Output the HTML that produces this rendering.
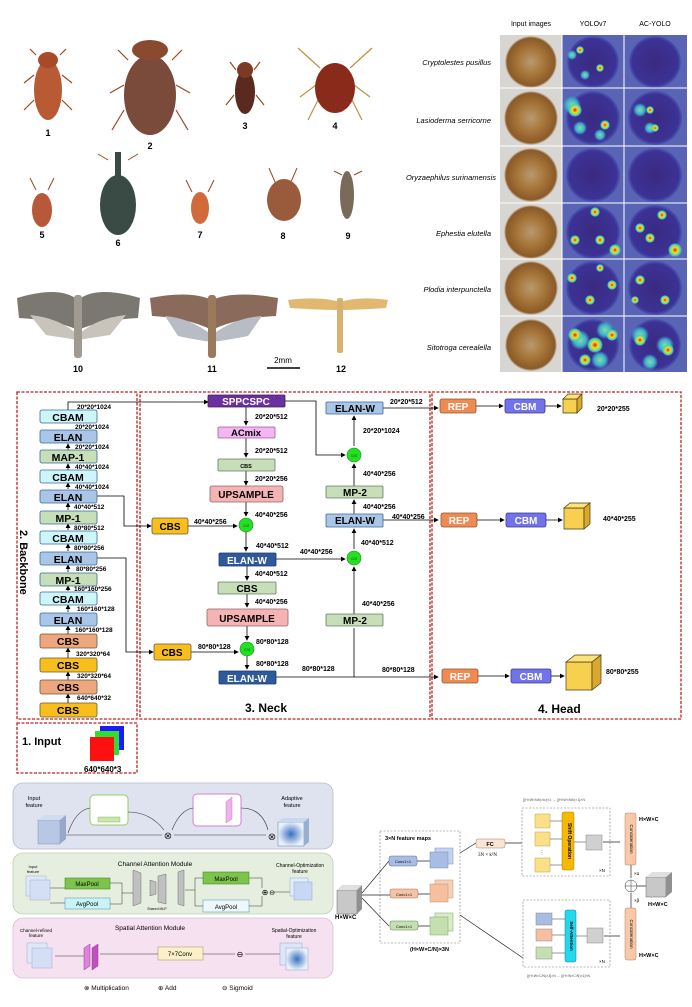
<!DOCTYPE html>
<html><head><meta charset="utf-8"><style>
html,body{margin:0;padding:0;background:#fff;}
svg{display:block;font-family:"Liberation Sans",sans-serif;}
</style></head><body>
<svg width="692" height="1007" viewBox="0 0 692 1007" xmlns="http://www.w3.org/2000/svg">
<defs>
<marker id="ar" markerWidth="6" markerHeight="6" refX="5" refY="3" orient="auto"><path d="M0,0 L6,3 L0,6z" fill="#000"/></marker>
<radialGradient id="grain" cx="50%" cy="50%" r="50%"><stop offset="0" stop-color="#b89a70"/><stop offset="0.5" stop-color="#a7763a"/><stop offset="0.92" stop-color="#8a5a28"/><stop offset="1" stop-color="#d8d0c4"/></radialGradient>
<radialGradient id="heat" cx="50%" cy="50%" r="55%"><stop offset="0" stop-color="#3a2a80"/><stop offset="0.8" stop-color="#3c3296"/><stop offset="1" stop-color="#5a78c8"/></radialGradient>
<radialGradient id="hot" cx="50%" cy="50%" r="50%"><stop offset="0" stop-color="#e02010"/><stop offset="0.4" stop-color="#f0e020"/><stop offset="0.8" stop-color="#40d0c0"/><stop offset="1" stop-color="#40d0c0" stop-opacity="0"/></radialGradient>
<radialGradient id="cool" cx="50%" cy="50%" r="50%"><stop offset="0" stop-color="#80e0a0"/><stop offset="0.6" stop-color="#40b0d0"/><stop offset="1" stop-color="#40b0d0" stop-opacity="0"/></radialGradient>
<radialGradient id="blueblob" cx="50%" cy="50%" r="50%"><stop offset="0" stop-color="#3a70c0"/><stop offset="1" stop-color="#e8f0fa"/></radialGradient>
</defs>

<!-- ===== Insects ===== -->
<g stroke="#9a4a20" stroke-width="1.2" fill="none">
<path d="M36,55 l-6,-6 M60,55 l6,-6 M34,75 l-10,8 M62,75 l10,8 M34,100 l-10,10 M62,100 l10,10"/>
<path d="M128,60 l-10,-10 M172,60 l10,-10 M124,85 l-14,8 M176,85 l14,8 M124,110 l-12,20 M176,110 l12,20"/>
<path d="M236,70 l-6,-8 M254,70 l6,-8 M234,95 l-8,10 M256,95 l8,10"/>
<path d="M320,68 l-22,-20 M350,68 l22,-20 M316,85 l-16,12 M354,85 l16,12 M318,100 l-10,20 M352,100 l10,20" stroke="#c09040"/>
</g>
<ellipse cx="48" cy="90" rx="14" ry="30" fill="#b85a34"/>
<ellipse cx="48" cy="60" rx="10" ry="8" fill="#a84a2a"/>
<ellipse cx="150" cy="95" rx="26" ry="40" fill="#7a4a3a"/>
<ellipse cx="150" cy="50" rx="18" ry="10" fill="#8a4a30"/>
<ellipse cx="245" cy="92" rx="10" ry="22" fill="#5a2a20"/>
<ellipse cx="245" cy="70" rx="8" ry="8" fill="#7a3a24"/>
<ellipse cx="335" cy="88" rx="20" ry="25" fill="#8a2a1a"/>
<g stroke="#9a4a20" stroke-width="1" fill="none">
<path d="M36,190 l-6,-12 M48,190 l6,-12 M108,160 l-10,-6 M128,160 l10,-6 M192,192 l-6,-12 M208,192 l6,-12 M275,182 l-6,-14 M291,182 l6,-14 M342,175 l-8,-4 M354,175 l8,-4"/>
</g>
<ellipse cx="42" cy="210" rx="10" ry="17" fill="#b8583a"/>
<ellipse cx="118" cy="205" rx="18" ry="30" fill="#3a4a44"/>
<rect x="115" y="152" width="6" height="25" fill="#3a4a44"/>
<ellipse cx="200" cy="208" rx="9" ry="16" fill="#d06a3a"/>
<ellipse cx="284" cy="200" rx="17" ry="21" fill="#9a5a3c"/>
<ellipse cx="347" cy="195" rx="7" ry="24" fill="#7a6a5a"/>
<g font-size="9" text-anchor="middle" font-weight="bold">
<text x="48" y="136">1</text><text x="150" y="149">2</text><text x="245" y="129">3</text><text x="335" y="129">4</text>
<text x="42" y="238">5</text><text x="118" y="246">6</text><text x="200" y="238">7</text><text x="283" y="239">8</text><text x="348" y="239">9</text>
<text x="78" y="372">10</text><text x="212" y="372">11</text><text x="341" y="372">12</text>
</g>
<path d="M17,298 Q60,285 78,300 Q96,285 140,298 L138,318 Q100,320 78,330 Q56,320 19,318z" fill="#7a7870"/>
<path d="M30,315 Q60,318 78,335 Q96,318 126,315 L110,335 Q90,338 78,340 Q66,338 46,335z" fill="#c8c4bc"/>
<rect x="74" y="295" width="8" height="63" rx="3" fill="#a09a90"/>
<path d="M150,298 Q190,290 212,300 Q234,290 278,298 L276,316 Q236,318 212,330 Q188,318 152,316z" fill="#8a6a5a"/>
<path d="M165,316 Q190,318 212,335 Q234,318 262,316 L248,336 Q228,340 212,342 Q196,340 178,336z" fill="#b8bcc4"/>
<rect x="208" y="295" width="8" height="63" rx="3" fill="#9a7a5a"/>
<path d="M288,300 Q320,296 340,302 Q360,296 388,300 L386,308 Q360,310 340,310 Q320,310 290,308z" fill="#e0b870"/>
<rect x="337" y="298" width="6" height="55" rx="2" fill="#d8b070"/>
<line x1="267" y1="368" x2="300" y2="368" stroke="#000" stroke-width="1.5"/>
<text x="283" y="363" font-size="8" text-anchor="middle">2mm</text>

<!-- ===== Heatmap grid ===== -->
<g font-size="7" text-anchor="middle"><text x="531" y="26">Input images</text><text x="593" y="26">YOLOv7</text><text x="655" y="26">AC-YOLO</text></g>
<g font-size="7.5" font-style="italic" text-anchor="end">
<text x="491" y="65">Cryptolestes pusillus</text><text x="491" y="123">Lasioderma serricorne</text><text x="496" y="180">Oryzaephilus surinamensis</text>
<text x="491" y="236">Ephestia elutella</text><text x="491" y="292">Plodia interpunctella</text><text x="491" y="350">Sitotroga cerealella</text>
</g>
<rect x="500" y="35" width="187" height="337" fill="#5a64b4"/>
<rect x="500" y="35" width="62" height="337" fill="#d8d6d2"/>
<g>
<circle cx="531" cy="62" r="26" fill="url(#grain)"/><circle cx="531" cy="118" r="27" fill="url(#grain)"/><circle cx="531" cy="175" r="27" fill="url(#grain)"/><circle cx="531" cy="232" r="27" fill="url(#grain)"/><circle cx="531" cy="288" r="27" fill="url(#grain)"/><circle cx="531" cy="345" r="26" fill="url(#grain)"/>
<circle cx="593" cy="62" r="26" fill="url(#heat)"/><circle cx="593" cy="118" r="27" fill="url(#heat)"/><circle cx="593" cy="175" r="27" fill="url(#heat)"/><circle cx="593" cy="232" r="27" fill="url(#heat)"/><circle cx="593" cy="288" r="27" fill="url(#heat)"/><circle cx="593" cy="345" r="26" fill="url(#heat)"/>
<circle cx="655" cy="62" r="26" fill="url(#heat)"/><circle cx="655" cy="118" r="27" fill="url(#heat)"/><circle cx="655" cy="175" r="27" fill="url(#heat)"/><circle cx="655" cy="232" r="27" fill="url(#heat)"/><circle cx="655" cy="288" r="27" fill="url(#heat)"/><circle cx="655" cy="345" r="26" fill="url(#heat)"/>
</g>
<g fill="url(#cool)">
<circle cx="572" cy="105" r="9"/><circle cx="580" cy="128" r="7"/><circle cx="600" cy="135" r="6"/><circle cx="640" cy="110" r="7"/><circle cx="650" cy="128" r="6"/>
<circle cx="580" cy="340" r="10"/><circle cx="605" cy="330" r="9"/><circle cx="600" cy="360" r="9"/><circle cx="640" cy="335" r="9"/><circle cx="665" cy="345" r="9"/><circle cx="650" cy="362" r="8"/><circle cx="572" cy="55" r="5"/><circle cx="585" cy="75" r="5"/>
</g>
<g fill="url(#hot)">
<circle cx="580" cy="50" r="4"/><circle cx="600" cy="68" r="4"/><circle cx="575" cy="110" r="7"/><circle cx="605" cy="125" r="5"/><circle cx="655" cy="128" r="4"/><circle cx="650" cy="110" r="4"/>
<circle cx="595" cy="212" r="5"/><circle cx="575" cy="240" r="5"/><circle cx="600" cy="240" r="5"/><circle cx="615" cy="250" r="6"/><circle cx="662" cy="215" r="5"/><circle cx="650" cy="238" r="5"/><circle cx="675" cy="250" r="7"/><circle cx="640" cy="228" r="5"/>
<circle cx="572" cy="278" r="5"/><circle cx="590" cy="300" r="5"/><circle cx="612" cy="285" r="5"/><circle cx="640" cy="280" r="5"/><circle cx="665" cy="300" r="5"/><circle cx="600" cy="268" r="4"/><circle cx="635" cy="300" r="4"/>
<circle cx="575" cy="335" r="7"/><circle cx="595" cy="345" r="8"/><circle cx="612" cy="335" r="6"/><circle cx="585" cy="360" r="6"/><circle cx="640" cy="340" r="6"/><circle cx="668" cy="350" r="6"/>
</g>
<g stroke="#fff" stroke-width="1">
<line x1="500" y1="88" x2="687" y2="88"/><line x1="500" y1="146" x2="687" y2="146"/><line x1="500" y1="203" x2="687" y2="203"/><line x1="500" y1="259" x2="687" y2="259"/><line x1="500" y1="316" x2="687" y2="316"/>
<line x1="562" y1="35" x2="562" y2="372"/><line x1="624" y1="35" x2="624" y2="372"/>
</g>

<!-- ===== Dashed boxes ===== -->
<g fill="none" stroke="#c02020" stroke-width="1.3" stroke-dasharray="3,1.5">
<rect x="17" y="392" width="120" height="327"/>
<rect x="140" y="392" width="290" height="327"/>
<rect x="432" y="392" width="249" height="327"/>
<rect x="17" y="723" width="120" height="50"/>
</g>

<!-- ===== Backbone ===== -->
<g stroke="#000" stroke-width="0.8" fill="none" marker-end="url(#ar)">
<path d="M68,703 V694"/><path d="M68,680 V672"/><path d="M68,658 V648"/><path d="M68,634 V626"/><path d="M68,612 V605"/><path d="M68,591 V586"/><path d="M68,572 V565"/><path d="M68,551 V544"/><path d="M68,530 V524"/><path d="M68,510 V503"/><path d="M68,489 V483"/><path d="M68,470 V464"/><path d="M68,450 V444"/>
<path d="M68,410 V402 H208"/>
<path d="M97,496 H124 V526 H151"/>
<path d="M97,558 H126 V652 H153"/>
</g>
<g font-size="10.5" font-weight="bold" text-anchor="middle">
<g stroke="#3a6a9a" stroke-width="0.8">
<rect x="40" y="410" width="57" height="13" rx="2" fill="#cdf6fb"/><text x="68" y="421" stroke="none">CBAM</text>
<rect x="40" y="430" width="57" height="13" rx="2" fill="#a9c6e6"/><text x="68" y="441" stroke="none">ELAN</text>
<rect x="40" y="450" width="57" height="13" rx="2" fill="#c6dfb8"/><text x="68" y="461" stroke="none">MAP-1</text>
<rect x="40" y="470" width="57" height="13" rx="2" fill="#cdf6fb"/><text x="68" y="481" stroke="none">CBAM</text>
<rect x="40" y="490" width="57" height="13" rx="2" fill="#a9c6e6"/><text x="68" y="501" stroke="none">ELAN</text>
<rect x="40" y="511" width="57" height="13" rx="2" fill="#c6dfb8"/><text x="68" y="522" stroke="none">MP-1</text>
<rect x="40" y="531" width="57" height="13" rx="2" fill="#cdf6fb"/><text x="68" y="542" stroke="none">CBAM</text>
<rect x="40" y="552" width="57" height="13" rx="2" fill="#a9c6e6"/><text x="68" y="563" stroke="none">ELAN</text>
<rect x="40" y="573" width="57" height="13" rx="2" fill="#c6dfb8"/><text x="68" y="584" stroke="none">MP-1</text>
<rect x="40" y="592" width="57" height="13" rx="2" fill="#cdf6fb"/><text x="68" y="603" stroke="none">CBAM</text>
<rect x="40" y="613" width="57" height="13" rx="2" fill="#a9c6e6"/><text x="68" y="624" stroke="none">ELAN</text>
</g>
<g stroke="#6a5a3a" stroke-width="0.8">
<rect x="40" y="634" width="57" height="14" rx="2" fill="#eea67c"/><text x="68" y="645" stroke="none">CBS</text>
<rect x="40" y="658" width="57" height="14" rx="2" fill="#f8bf1c"/><text x="68" y="669" stroke="none">CBS</text>
<rect x="40" y="680" width="57" height="14" rx="2" fill="#eea67c"/><text x="68" y="691" stroke="none">CBS</text>
<rect x="40" y="703" width="57" height="14" rx="2" fill="#f8bf1c"/><text x="68" y="714" stroke="none">CBS</text>
</g>
</g>
<g font-size="6.5" font-weight="bold">
<text x="77" y="409">20*20*1024</text><text x="75" y="429">20*20*1024</text><text x="75" y="449">20*20*1024</text><text x="75" y="469">40*40*1024</text><text x="75" y="489">40*40*1024</text>
<text x="74" y="509">40*40*512</text><text x="74" y="530">80*80*512</text><text x="74" y="550">80*80*256</text><text x="76" y="571">80*80*256</text><text x="74" y="591">160*160*256</text>
<text x="77" y="611">160*160*128</text><text x="75" y="632">160*160*128</text><text x="76" y="656">320*320*64</text><text x="77" y="678">320*320*64</text><text x="77" y="700">640*640*32</text>
</g>
<text x="20" y="530" font-size="11" font-weight="bold" transform="rotate(90 20 530)">2. Backbone</text>

<text x="22" y="745" font-size="11" font-weight="bold">1. Input</text>
<rect x="100" y="726" width="24" height="24" fill="#1a1aff"/>
<rect x="95" y="731" width="24" height="24" fill="#30e030"/>
<rect x="90" y="737" width="24" height="24" fill="#ff1010"/>
<text x="84" y="772" font-size="8" font-weight="bold">640*640*3</text>

<!-- ===== Neck ===== -->
<g stroke="#000" stroke-width="0.8" fill="none" marker-end="url(#ar)">
<path d="M246,407 V425"/><path d="M246,438 V457"/><path d="M246,471 V485"/><path d="M246,502 V516"/>
<path d="M188,526 H237"/><path d="M246,532 V551"/><path d="M247,566 V580"/><path d="M247,594 V607"/><path d="M247,626 V640"/>
<path d="M191,652 H238"/><path d="M247,656 V669"/>
<path d="M285,401 H316 V455 H345"/>
<path d="M276,559 H345"/>
<path d="M354,614 V567"/><path d="M354,549 V529"/><path d="M354,514 V500"/><path d="M354,486 V464"/><path d="M354,446 V416"/>
<path d="M383,408 H438"/><path d="M383,520 H438"/><path d="M276,677 H438"/>
<path d="M476,406 H503"/><path d="M476,520 H504"/><path d="M476,676 H509"/>
<path d="M545,406 H561"/><path d="M545,520 H562"/><path d="M550,676 H564"/>
</g>
<line x1="354" y1="677" x2="354" y2="628" stroke="#000" stroke-width="0.8"/>
<g text-anchor="middle" font-weight="bold">
<rect x="208" y="395" width="77" height="12" rx="1" fill="#6b2fa0" stroke="#3a2060" stroke-width="0.8"/><text x="246" y="405" font-size="10" fill="#fff">SPPCSPC</text>
<rect x="218" y="427" width="57" height="11" rx="1" fill="#f3b6f3" stroke="#9a5aa0" stroke-width="0.8"/><text x="246" y="436" font-size="9.5">ACmix</text>
<rect x="218" y="459" width="57" height="12" rx="1" fill="#c6dfb8" stroke="#6a7a6a" stroke-width="0.8"/><text x="246" y="468" font-size="5.5">CBS</text>
<rect x="210" y="486" width="73" height="16" rx="2" fill="#f5b3b3" stroke="#8a6a6a" stroke-width="0.8"/><text x="246" y="498" font-size="10">UPSAMPLE</text>
<rect x="152" y="518" width="36" height="16" rx="2" fill="#f8bf1c" stroke="#6a5a3a" stroke-width="0.8"/><text x="170" y="530" font-size="10">CBS</text>
<rect x="219" y="553" width="57" height="13" rx="1" fill="#2e5a9c" stroke="#1a3a6a" stroke-width="0.8"/><text x="247" y="564" font-size="10" fill="#fff">ELAN-W</text>
<rect x="218" y="582" width="58" height="12" rx="1" fill="#c6dfb8" stroke="#6a7a6a" stroke-width="0.8"/><text x="247" y="592" font-size="10">CBS</text>
<rect x="207" y="609" width="81" height="17" rx="2" fill="#f5b3b3" stroke="#8a6a6a" stroke-width="0.8"/><text x="247" y="622" font-size="10">UPSAMPLE</text>
<rect x="154" y="644" width="37" height="16" rx="2" fill="#f8bf1c" stroke="#6a5a3a" stroke-width="0.8"/><text x="172" y="656" font-size="10">CBS</text>
<rect x="219" y="671" width="57" height="13" rx="1" fill="#2e5a9c" stroke="#1a3a6a" stroke-width="0.8"/><text x="247" y="682" font-size="10" fill="#fff">ELAN-W</text>
<rect x="326" y="402" width="57" height="12" rx="1" fill="#a9c6e6" stroke="#3a6a9a" stroke-width="0.8"/><text x="355" y="412" font-size="10">ELAN-W</text>
<rect x="326" y="486" width="57" height="12" rx="1" fill="#c6dfb8" stroke="#6a7a6a" stroke-width="0.8"/><text x="355" y="496" font-size="10">MP-2</text>
<rect x="326" y="514" width="57" height="13" rx="1" fill="#a9c6e6" stroke="#3a6a9a" stroke-width="0.8"/><text x="355" y="524" font-size="10">ELAN-W</text>
<rect x="326" y="614" width="57" height="12" rx="1" fill="#c6dfb8" stroke="#6a7a6a" stroke-width="0.8"/><text x="355" y="624" font-size="10">MP-2</text>
<g fill="#22e022" stroke="#1a8a1a" stroke-width="0.6">
<circle cx="246" cy="525" r="7"/><circle cx="247" cy="649" r="7"/><circle cx="354" cy="455" r="7"/><circle cx="354" cy="558" r="7"/>
</g>
<g font-size="4.5" font-weight="normal" fill="#1a6a1a"><text x="246" y="527">cat</text><text x="247" y="651">cat</text><text x="354" y="457">cat</text><text x="354" y="560">cat</text></g>
</g>
<g font-size="7" font-weight="bold">
<text x="255" y="419">20*20*512</text><text x="255" y="453">20*20*512</text><text x="255" y="481">20*20*256</text><text x="255" y="517">40*40*256</text>
<text x="194" y="524">40*40*256</text><text x="256" y="548">40*40*512</text><text x="300" y="554">40*40*256</text><text x="255" y="576">40*40*512</text>
<text x="255" y="604">40*40*256</text><text x="256" y="644">80*80*128</text><text x="198" y="649">80*80*128</text><text x="256" y="666">80*80*128</text>
<text x="302" y="671">80*80*128</text><text x="382" y="672">80*80*128</text>
<text x="363" y="433">20*20*1024</text><text x="363" y="476">40*40*256</text><text x="363" y="509">40*40*256</text><text x="361" y="545">40*40*512</text><text x="362" y="606">40*40*256</text>
<text x="390" y="404">20*20*512</text><text x="392" y="519">40*40*256</text>
</g>
<text x="245" y="712" font-size="12" font-weight="bold">3. Neck</text>

<!-- ===== Head ===== -->
<g font-weight="bold" text-anchor="middle" font-size="10" fill="#fff">
<rect x="440" y="399" width="36" height="14" rx="2" fill="#ee8a52" stroke="#8a5a3a" stroke-width="0.8"/><text x="458" y="410">REP</text>
<rect x="505" y="399" width="40" height="14" rx="2" fill="#7272ea" stroke="#3a3a8a" stroke-width="0.8"/><text x="525" y="410">CBM</text>
<rect x="441" y="513" width="36" height="14" rx="2" fill="#ee8a52" stroke="#8a5a3a" stroke-width="0.8"/><text x="459" y="524">REP</text>
<rect x="506" y="513" width="40" height="14" rx="2" fill="#7272ea" stroke="#3a3a8a" stroke-width="0.8"/><text x="526" y="524">CBM</text>
<rect x="442" y="669" width="36" height="14" rx="2" fill="#ee8a52" stroke="#8a5a3a" stroke-width="0.8"/><text x="460" y="680">REP</text>
<rect x="511" y="669" width="40" height="14" rx="2" fill="#7272ea" stroke="#3a3a8a" stroke-width="0.8"/><text x="531" y="680">CBM</text>
</g>
<g stroke="#4a3a10" stroke-width="0.7">
<path d="M563,399 h14 v14 h-14z" fill="#f8d050"/><path d="M563,399 l5,-5 h14 l-5,5z" fill="#fbe27a"/><path d="M577,399 l5,-5 v14 l-5,5z" fill="#d8a830"/>
<path d="M564,508 h20 v21 h-20z" fill="#f8d050"/><path d="M564,508 l6,-5 h20 l-6,5z" fill="#fbe27a"/><path d="M584,508 l6,-5 v21 l-6,5z" fill="#d8a830"/>
<path d="M566,662 h26 v28 h-26z" fill="#f8d050"/><path d="M566,662 l9,-7 h26 l-9,7z" fill="#fbe27a"/><path d="M592,662 l9,-7 v28 l-9,7z" fill="#d8a830"/>
</g>
<g font-size="7" font-weight="bold"><text x="597" y="411">20*20*255</text><text x="603" y="521">40*40*255</text><text x="606" y="674">80*80*255</text></g>
<text x="538" y="713" font-size="12" font-weight="bold">4. Head</text>

<!-- ===== Bottom left panels ===== -->
<rect x="13" y="783" width="320" height="66" rx="10" fill="#dfe3ef" stroke="#b8bccc" stroke-width="0.8"/>
<rect x="13" y="853" width="320" height="61" rx="10" fill="#e6efdf" stroke="#c0ccb8" stroke-width="0.8"/>
<rect x="13" y="918" width="320" height="60" rx="10" fill="#f6e1f1" stroke="#d8c0d4" stroke-width="0.8"/>
<g font-size="5.5" text-anchor="middle">
<text x="34" y="800">Input</text><text x="34" y="807">feature</text>
<text x="109" y="805" font-size="4">Channel</text><text x="109" y="810" font-size="4">Attention</text><text x="109" y="815" font-size="4">Module</text>
<text x="205" y="806" font-size="4">Spatial</text><text x="205" y="811" font-size="4">Attention</text><text x="205" y="816" font-size="4">Module</text>
<text x="292" y="800">Adaptive</text><text x="292" y="807">feature</text>
<text x="155" y="866" font-size="6.5">Channel Attention Module</text>
<text x="150" y="930" font-size="6.5">Spatial Attention Module</text>
<text x="33" y="868" font-size="4">Input</text><text x="33" y="873" font-size="4">feature</text>
<text x="300" y="867" font-size="5">Channel-Optimization</text><text x="300" y="873" font-size="5">feature</text>
<text x="36" y="932" font-size="4.5">Channel-refined</text><text x="36" y="937" font-size="4.5">feature</text>
<text x="294" y="932" font-size="5">Spatial-Optimization</text><text x="294" y="938" font-size="5">feature</text>
<text x="157" y="910" font-size="3.5">Shared MLP</text>
</g>
<path d="M38,820 h22 v24 h-22z" fill="#b8c8e4" stroke="#8090b0" stroke-width="0.5"/><path d="M38,820 l6,-5 h22 l-6,5z" fill="#d0dcf0"/><path d="M60,820 l6,-5 v24 l-6,5z" fill="#98a8c8"/>
<rect x="90" y="795" width="38" height="30" rx="4" fill="#fff" stroke="#9acc60" stroke-width="1"/>
<rect x="98" y="817" width="22" height="5" fill="#c8e8a8" stroke="#80a060" stroke-width="0.4"/>
<rect x="193" y="794" width="48" height="32" rx="4" fill="#fff" stroke="#d080d0" stroke-width="1"/>
<path d="M226,802 l6,-5 v22 l-6,4z" fill="#f0b0e8" stroke="#b070b0" stroke-width="0.4"/>
<g stroke="#333" stroke-width="0.6" fill="none">
<path d="M66,835 H162 M174,835 H266 M278,835 H290"/>
<path d="M68,833 Q76,810 90,808"/><path d="M128,812 Q150,812 164,830"/><path d="M172,830 Q180,810 193,808"/><path d="M241,808 Q262,808 268,830"/>
</g>
<g font-size="10" text-anchor="middle" fill="#222"><text x="168" y="839">⊗</text><text x="272" y="840">⊗</text></g>
<rect x="278" y="822" width="26" height="24" fill="url(#blueblob)" stroke="#6080a0" stroke-width="0.5"/>
<path d="M278,822 l5,-4 h26 l-5,4z" fill="#c8d8ee"/><path d="M304,822 l5,-4 v24 l-5,4z" fill="#98b0d0"/>
<rect x="26" y="876" width="20" height="20" fill="#e0e8f8" stroke="#a0b0d0" stroke-width="0.5"/>
<rect x="30" y="880" width="20" height="20" fill="#d4def4" stroke="#a0b0d0" stroke-width="0.5"/>
<rect x="65" y="878" width="45" height="11" fill="#7cc44c" stroke="#4a8a2a" stroke-width="0.6"/><text x="87" y="886" font-size="6" text-anchor="middle">MaxPool</text>
<rect x="65" y="898" width="45" height="11" fill="#c8f4f8" stroke="#60a0b0" stroke-width="0.6"/><text x="87" y="906" font-size="6" text-anchor="middle">AvgPool</text>
<path d="M133,870 l8,3 v30 l-8,3z M150,880 l6,2 v12 l-6,2z M166,874 l-8,2 v26 l8,2z M178,872 l6,-2 v36 l-6,-2z" fill="#c0c0c0" stroke="#707070" stroke-width="0.5"/>
<rect x="203" y="872" width="46" height="12" fill="#7cc44c" stroke="#4a8a2a" stroke-width="0.6"/><text x="226" y="881" font-size="6" text-anchor="middle">MaxPool</text>
<rect x="203" y="900" width="46" height="12" fill="#eef8fa" stroke="#60a0b0" stroke-width="0.6"/><text x="226" y="909" font-size="6" text-anchor="middle">AvgPool</text>
<g stroke="#333" stroke-width="0.5" fill="none"><path d="M50,888 H65 M50,903 H65 M110,883 H122 V893 H133 M110,904 H122 V893 M185,890 H195 V878 H203 M195,890 V906 H203 M249,878 H262 V888 M249,906 H262 V896 M274,892 H290"/></g>
<text x="265" y="895" font-size="8" text-anchor="middle">⊕</text><text x="272" y="895" font-size="7" text-anchor="middle">⊖</text>
<rect x="290" y="878" width="18" height="18" fill="#e4ecfa" stroke="#90a8d0" stroke-width="0.5"/><rect x="294" y="882" width="18" height="18" fill="#c8d8f4" stroke="#90a8d0" stroke-width="0.5"/>
<rect x="27" y="943" width="20" height="20" fill="#e0e8f8" stroke="#a0b0d0" stroke-width="0.5"/><rect x="32" y="948" width="20" height="20" fill="#d4def4" stroke="#a0b0d0" stroke-width="0.5"/>
<path d="M84,948 l6,-4 v22 l-6,4z" fill="#e080e0" stroke="#904090" stroke-width="0.5"/><path d="M92,948 l6,-4 v22 l-6,4z" fill="#c050c0" stroke="#904090" stroke-width="0.5"/>
<rect x="158" y="947" width="45" height="13" fill="#fbf0c8" stroke="#b0a070" stroke-width="0.6"/><text x="180" y="956" font-size="6" text-anchor="middle">7×7Conv</text>
<g stroke="#333" stroke-width="0.5"><path d="M55,956 H84 M100,954 H158 M203,954 H235 M245,954 H282"/></g>
<text x="240" y="957" font-size="8" text-anchor="middle">⊖</text>
<rect x="280" y="943" width="22" height="22" fill="#dce6f6" stroke="#90a8d0" stroke-width="0.5"/><rect x="286" y="948" width="22" height="22" fill="url(#blueblob)" stroke="#90a8d0" stroke-width="0.5"/>
<g font-size="6.5"><text x="84" y="990">⊗ Multiplication</text><text x="158" y="990">⊕ Add</text><text x="222" y="990">⊖ Sigmoid</text></g>

<!-- ===== Bottom right ACmix ===== -->
<path d="M337,890 h20 v24 h-20z" fill="#c8c8c8" stroke="#666" stroke-width="0.5"/><path d="M337,890 l5,-5 h20 l-5,5z" fill="#e0e0e0"/><path d="M357,890 l5,-5 v24 l-5,5z" fill="#909090"/>
<text x="335" y="919" font-size="6" font-weight="bold">H×W×C</text>
<rect x="380" y="831" width="80" height="112" fill="none" stroke="#777" stroke-width="0.6" stroke-dasharray="2,1.5"/>
<text x="385" y="840" font-size="5.5" font-weight="bold">3×N  feature maps</text>
<text x="410" y="951" font-size="5.5" font-weight="bold">(H×W×C/N)×3N</text>
<g stroke="#222" stroke-width="0.7"><path d="M362,893 L389,861 M362,895 H390 M362,898 L389,926 M417,861 H430 M418,894 H430 M417,926 H430 M460,853 L476,843 M505,843 H522 M460,915 L523,958 M603,842 H620 M604,936 H620 M631,865 V878 M631,893 V908 M637,886 H646"/></g>
<rect x="389" y="856" width="28" height="10" rx="2" fill="#a9bce4" stroke="#6070a0" stroke-width="0.5"/><text x="403" y="863" font-size="4" text-anchor="middle">Conv1×1</text>
<rect x="390" y="889" width="28" height="9" rx="2" fill="#f6c4a4" stroke="#a07060" stroke-width="0.5"/><text x="404" y="896" font-size="4" text-anchor="middle">Conv1×1</text>
<rect x="390" y="921" width="28" height="9" rx="2" fill="#c4e0b0" stroke="#608050" stroke-width="0.5"/><text x="404" y="928" font-size="4" text-anchor="middle">Conv1×1</text>
<g stroke-width="0.5">
<rect x="435" y="848" width="18" height="16" fill="#c4d4f0" stroke="#7090c0"/><rect x="430" y="852" width="18" height="16" fill="#a9bce4" stroke="#7090c0"/>
<rect x="435" y="880" width="18" height="18" fill="#f8d0b8" stroke="#c09070"/><rect x="430" y="884" width="18" height="18" fill="#f6c0a0" stroke="#c09070"/>
<rect x="435" y="913" width="18" height="18" fill="#d8ecc8" stroke="#80a070"/><rect x="430" y="917" width="18" height="18" fill="#c4e0b0" stroke="#80a070"/>
</g>
<rect x="476" y="839" width="29" height="9" rx="2" fill="#fbe4d4" stroke="#a08070" stroke-width="0.5"/><text x="490" y="846" font-size="5.5" font-weight="bold" text-anchor="middle">FC</text>
<text x="478" y="856" font-size="5" font-family="Liberation Serif">3N × k²N</text>
<rect x="522" y="808" width="88" height="68" fill="none" stroke="#777" stroke-width="0.6" stroke-dasharray="2,1.5"/>
<rect x="523" y="900" width="87" height="67" fill="none" stroke="#777" stroke-width="0.6" stroke-dasharray="2,1.5"/>
<text x="523" y="801" font-size="3.5" fill="#555">[(H×W×N/k)×k²]×1 → [(H×W×N/k)×1]×N</text>
<text x="527" y="977" font-size="3.5" fill="#555">[(H×W×C/N)×3]×N → [(H×W×C/N)×1]×N</text>
<g fill="#fbe08a" stroke="#c0a040" stroke-width="0.5"><rect x="535" y="814" width="15" height="14"/><rect x="535" y="832" width="15" height="14"/><rect x="535" y="858" width="15" height="14"/></g>
<text x="542" y="854" font-size="5" text-anchor="middle">⋮</text>
<rect x="562" y="812" width="12" height="58" rx="2" fill="#f6b800" stroke="#a08000" stroke-width="0.5"/>
<text x="568" y="841" font-size="5" font-weight="bold" text-anchor="middle" transform="rotate(90 568 841)">Shift Operation</text>
<rect x="586" y="835" width="16" height="15" fill="#d0d0d0" stroke="#888" stroke-width="0.5"/>
<g stroke-width="0.5" stroke="#888"><rect x="536" y="913" width="16" height="12" fill="#a9bce4"/><rect x="536" y="929" width="16" height="12" fill="#f6c0a0"/><rect x="536" y="947" width="16" height="12" fill="#c4e0b0"/></g>
<rect x="565" y="910" width="11" height="52" rx="2" fill="#22d8ee" stroke="#108090" stroke-width="0.5"/>
<text x="570" y="936" font-size="4.5" font-weight="bold" text-anchor="middle" transform="rotate(90 570 936)">Self-Attention</text>
<rect x="587" y="928" width="16" height="15" fill="#d0d0d0" stroke="#888" stroke-width="0.5"/>
<g stroke="#333" stroke-width="0.5"><path d="M550,821 H562 M550,839 H562 M550,865 H562 M574,842 H586 M552,919 H565 M552,935 H565 M552,953 H565 M576,936 H587"/></g>
<text x="599" y="872" font-size="4.5">×N</text><text x="599" y="963" font-size="4.5">×N</text>
<rect x="625" y="813" width="11" height="52" rx="2" fill="#f8c8a8" stroke="#b08060" stroke-width="0.5"/>
<rect x="625" y="908" width="11" height="52" rx="2" fill="#f8c8a8" stroke="#b08060" stroke-width="0.5"/>
<text x="630" y="839" font-size="4.5" text-anchor="middle" transform="rotate(90 630 839)">Concatenation</text>
<text x="630" y="934" font-size="4.5" text-anchor="middle" transform="rotate(90 630 934)">Concatenation</text>
<circle cx="631" cy="886" r="6" fill="#fff" stroke="#333" stroke-width="0.5"/><path d="M625,886 H637 M631,880 V892" stroke="#333" stroke-width="0.5"/>
<text x="634" y="875" font-size="4.5">×α</text><text x="634" y="902" font-size="4.5">×β</text>
<path d="M646,877 h20 v20 h-20z" fill="#c8c8c8" stroke="#666" stroke-width="0.5"/><path d="M646,877 l6,-5 h20 l-6,5z" fill="#e0e0e0"/><path d="M666,877 l6,-5 v20 l-6,5z" fill="#909090"/>
<g font-size="5.5" font-weight="bold"><text x="639" y="821">H×W×C</text><text x="648" y="906">H×W×C</text><text x="639" y="957">H×W×C</text></g>
</svg>
</body></html>
